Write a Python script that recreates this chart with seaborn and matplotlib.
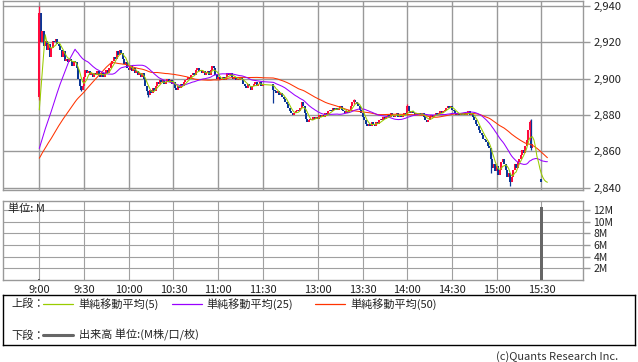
import numpy as np
import pandas as pd
import matplotlib
matplotlib.use("Agg")
import matplotlib.pyplot as plt
import seaborn as sns

# ---------------- data (1-minute bars, slot index: 9:00 = 0, 12:30 = 157) ----------------
prev_close = [2851, 2850, 2852, 2851, 2850, 2849, 2851, 2852, 2851, 2850, 2851, 2852, 2850,
              2851, 2850, 2852, 2851, 2850, 2851, 2852, 2851, 2850, 2851, 2852, 2851,
              2853, 2854, 2855, 2854, 2856, 2855, 2856, 2857, 2856, 2855, 2857, 2858, 2857,
              2856, 2858, 2857, 2858, 2859, 2858, 2857,
              2866, 2869, 2871, 2872]

am_close = [2936, 2920, 2926, 2918, 2921, 2916, 2919, 2912, 2917, 2921,
            2920, 2922, 2919, 2918, 2916, 2912, 2915, 2910, 2911, 2909,
            2911, 2910, 2907, 2910, 2909, 2906, 2900, 2896, 2894, 2896,
            2901, 2905, 2903, 2904, 2902, 2903, 2901, 2903, 2902, 2904,
            2902, 2901, 2903, 2901, 2903, 2905, 2903, 2906, 2908, 2910,
            2912, 2911, 2915, 2913, 2916, 2914, 2911, 2908, 2909, 2906,
            2905, 2907, 2904, 2906, 2903, 2904, 2902, 2903, 2901, 2903,
            2900, 2896, 2893, 2891, 2894, 2892, 2895, 2893, 2896, 2898,
            2897, 2899, 2898, 2899, 2897, 2898, 2900, 2898, 2899, 2897,
            2898, 2895, 2894, 2896, 2895, 2897, 2896, 2898, 2899, 2900,
            2901, 2900, 2902, 2903, 2902, 2905, 2906, 2904, 2905, 2903,
            2904, 2902, 2903, 2904, 2902, 2905, 2907, 2906, 2902, 2900,
            2901, 2899, 2900, 2901, 2899, 2901, 2903, 2902, 2903, 2901,
            2900, 2901, 2899, 2900, 2899, 2901, 2900, 2897, 2896, 2895,
            2897, 2896, 2894, 2896, 2897, 2898, 2896, 2897, 2898, 2896,
            2897]

pm_close = [2894, 2893, 2892, 2893, 2891, 2892, 2890, 2889, 2887, 2886,
            2884, 2882, 2881, 2880, 2881, 2882, 2883, 2882, 2884, 2887,
            2885, 2881, 2878, 2876, 2877, 2878, 2877, 2879, 2878, 2879,
            2878, 2880, 2879, 2880, 2879, 2881, 2880, 2882, 2883, 2882,
            2884, 2883, 2884, 2883, 2884, 2885, 2883, 2882, 2881, 2882,
            2881, 2883, 2885, 2887, 2888, 2887, 2886, 2885, 2883, 2881,
            2879, 2877, 2875, 2874, 2875, 2874, 2876, 2875, 2874, 2876,
            2875, 2877, 2878, 2877, 2879, 2878, 2879, 2880, 2879, 2881,
            2880, 2879, 2880, 2881, 2879, 2880, 2879, 2880, 2881, 2880,
            2885, 2882, 2881, 2882, 2881, 2880, 2881, 2880, 2881, 2880,
            2881, 2879, 2877, 2876, 2877, 2879, 2880, 2879, 2880, 2881,
            2880, 2881, 2882, 2881, 2882, 2883, 2884, 2885, 2884, 2885,
            2883, 2882, 2881, 2880, 2881, 2880, 2881, 2880, 2881, 2880,
            2881, 2882, 2880, 2881, 2879, 2877, 2875, 2874, 2872, 2870,
            2869, 2867, 2866, 2865, 2863, 2862, 2856, 2851, 2853, 2849,
            2852, 2847, 2850, 2854, 2856, 2853, 2850, 2846, 2848, 2843,
            2846, 2850, 2853, 2851, 2854, 2856, 2858, 2861, 2859, 2863,
            2866, 2872, 2876, 2862, 2864]

# closing-auction period (slot 337 = 15:30 closing auction print)
tail_close = [2857, 2853, 2850, 2847, 2845, 2843, 2843, 2843, 2843, 2843]
first_open = 2890
am_first_slot = 0
pm_first_slot = 157
auction_slot = 337

wick_slot = [0, 28, 73, 157, 211, 247, 303, 316, 329, 330]
wick_lo = [2888, 2893, 2890, 2886.5, 2886, 2880, 2848, 2841, 2866, 2861]
wick_hi = [2940, 2896, 2893, 2896, 2889, 2886, 2862, 2846, 2877, 2878]

vol_slot = [0, 337]
vol_m = [0.2, 12.5]

time_labels = ["9:00", "9:30", "10:00", "10:30", "11:00", "11:30",
               "13:00", "13:30", "14:00", "14:30", "15:00", "15:30"]
time_slots = [0, 30, 60, 90, 120, 150, 187, 217, 247, 277, 307, 337]
price_ticks = [2840, 2860, 2880, 2900, 2920, 2940]
vol_ticks = [2, 4, 6, 8, 10, 12]

# ---------------- build frames ----------------
am_slots = list(range(am_first_slot, am_first_slot + len(am_close)))
pm_slots = list(range(pm_first_slot, pm_first_slot + len(pm_close)))
tail_slots = list(range(pm_slots[-1] + 1, pm_slots[-1] + 1 + len(tail_close)))

all_close = pd.Series(prev_close + am_close + pm_close + tail_close, dtype=float)
all_slots = [np.nan] * len(prev_close) + am_slots + pm_slots + tail_slots
ma = pd.DataFrame({
    "slot": all_slots,
    "ma5": all_close.rolling(5).mean(),
    "ma25": all_close.rolling(25).mean(),
    "ma50": all_close.rolling(50).mean(),
}).dropna(subset=["slot"])

seq_close = am_close + pm_close + tail_close
seq_slots = am_slots + pm_slots + tail_slots
seq_open = [first_open] + seq_close[:-1]
bars = pd.DataFrame({"slot": seq_slots, "open": seq_open, "close": seq_close})
bars = bars[(bars.slot <= pm_slots[-1]) | (bars.slot == auction_slot)].copy()
bars["lo"] = bars[["open", "close"]].min(axis=1)
bars["hi"] = bars[["open", "close"]].max(axis=1)
flat = bars.hi - bars.lo < 1.0
bars.loc[flat, "lo"] -= 0.5
bars.loc[flat, "hi"] += 0.5
RED, BLUE = "#ff0a3c", "#0a3696"
bars["color"] = np.where(bars.close > bars.open, RED, BLUE)

# ---------------- figure ----------------
sns.set_theme(style="white")
plt.rcParams["font.family"] = ["Noto Sans CJK JP", "DejaVu Sans"]

W, H = 638, 362
fig = plt.figure(figsize=(W / 100, H / 100), dpi=100)
GRID = "#999999"

def fx(px):
    return px / W

def fy(py):
    return 1 - py / H

x0, x1 = 3, 583
slot_to_px = 1.49
xlim = ((x0 - 39.3) / slot_to_px, (x1 - 39.3) / slot_to_px)

ax = fig.add_axes([fx(x0), fy(190), fx(x1 - x0), (190 - 1) / H])
ax_v = fig.add_axes([fx(x0), fy(280), fx(x1 - x0), (280 - 201) / H])

# price panel
ax.vlines(bars.slot, bars.lo, bars.hi, colors=bars.color, lw=1.45, zorder=2)
wk = bars.set_index("slot").loc[wick_slot, "color"].values
ax.vlines(wick_slot, wick_lo, wick_hi, colors=wk, lw=0.9, zorder=2)

sns.lineplot(data=ma, x="slot", y="ma50", ax=ax, color="#ff3300", lw=0.75, zorder=3)
sns.lineplot(data=ma, x="slot", y="ma25", ax=ax, color="#9900ff", lw=0.75, zorder=4)
sns.lineplot(data=ma, x="slot", y="ma5", ax=ax, color="#99cc00", lw=0.75, zorder=5)

ax.set_xlim(*xlim)
ax.set_ylim(2940 - (190 - 6) / 1.817, 2940 + (6 - 1) / 1.817)
ax.set_xticks(time_slots)
ax.set_xticklabels([])
ax.set_yticks(price_ticks)
ax.set_yticklabels([f"{v:,}" for v in price_ticks])
ax.yaxis.tick_right()
ax.tick_params(axis="y", direction="out", length=5, width=1, color=GRID,
               labelsize=8, pad=2.5, labelcolor="#222222", right=True, left=False)
ax.tick_params(axis="x", length=0)
ax.grid(True, color=GRID, lw=1.0)
ax.set_axisbelow(True)
ax.set_xlabel("")
ax.set_ylabel("")
for s in ax.spines.values():
    s.set_color(GRID)
    s.set_linewidth(1.0)

# volume panel
ax_v.bar(vol_slot, vol_m, width=1.5, color="#666666", edgecolor="none",
         linewidth=0, zorder=3)
ax_v.set_xlim(*xlim)
ax_v.set_ylim(0, (280 - 201) / 5.85)
ax_v.set_yticks(vol_ticks)
ax_v.set_yticklabels([f"{v}M" for v in vol_ticks])
ax_v.yaxis.tick_right()
ax_v.tick_params(axis="y", direction="out", length=5, width=1, color=GRID,
                 labelsize=7.5, pad=2.5, labelcolor="#222222", right=True, left=False)
ax_v.set_xticks(time_slots)
ax_v.set_xticklabels(time_labels)
ax_v.tick_params(axis="x", length=0, labelsize=8, pad=3.5, labelcolor="#222222")
ax_v.grid(True, color="#a0a0a0", lw=0.8)
ax_v.set_axisbelow(True)
for s in ax_v.spines.values():
    s.set_color(GRID)
    s.set_linewidth(1.0)
fig.text(fx(8), fy(209), "単位: M", fontsize=8, va="center", ha="left", color="#222222")

# legend box
ax_l = fig.add_axes([fx(3.3), fy(345.3), fx(634.5 - 3.3), (345.3 - 295.3) / H])
ax_l.set_xlim(3.3, 634.5)
ax_l.set_ylim(345.3, 295.3)
ax_l.set_xticks([])
ax_l.set_yticks([])
ax_l.set_facecolor("white")
for s in ax_l.spines.values():
    s.set_color("black")
    s.set_linewidth(1.0)
y1, y2 = 303.7, 335.3
ax_l.text(11.5, y1, "上段：", fontsize=8, va="center", color="#222222")
ax_l.text(11.5, y2, "下段：", fontsize=8, va="center", color="#222222")
leg = [(43.3, "#99cc00", "単純移動平均(5)"),
       (171.7, "#9900ff", "単純移動平均(25)"),
       (315.0, "#ff3300", "単純移動平均(50)")]
for lx, c, t in leg:
    ax_l.plot([lx, lx + 30], [y1, y1], color=c, lw=0.9)
    ax_l.text(lx + 35, y1, t, fontsize=8, va="center", color="#222222")
ax_l.plot([43.3, 73.3], [y2, y2], color="#666666", lw=2.2)
ax_l.text(79, y2, "出来高 単位:(M株/口/枚)", fontsize=8, va="center", color="#222222")

fig.text(fx(618), fy(357), "(c)Quants Research Inc.", fontsize=8, ha="right",
         va="center", color="#333333")

fig.savefig("out.png", dpi=100)
